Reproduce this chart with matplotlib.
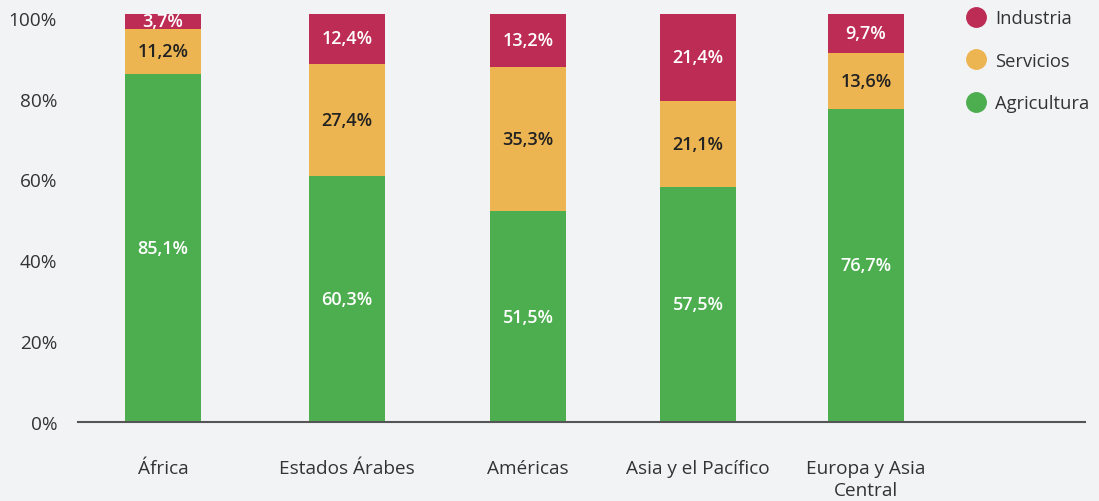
import matplotlib
matplotlib.use("Agg")
import matplotlib.pyplot as plt
from matplotlib.lines import Line2D
from matplotlib.transforms import ScaledTranslation

# Data
categories = ["África", "Estados Árabes", "Américas", "Asia y el Pacífico", "Europa y Asia\nCentral"]
agricultura = [85.1, 60.3, 51.5, 57.5, 76.7]
servicios = [11.2, 27.4, 35.3, 21.1, 13.6]
industria = [3.7, 12.4, 13.2, 21.4, 9.7]
series_names = ["Industria", "Servicios", "Agricultura"]
ytick_vals = [0, 20, 40, 60, 80, 100]

# Layout (pixel-like units along the axis)
x_pos = [85, 269, 450, 620, 788]
bar_w = 76

BG = "#F2F3F5"
C_IND = "#BC2C55"
C_SER = "#ECB551"
C_AGR = "#4DAE50"
TXT = "#333333"
FONT = ["Open Sans", "DejaVu Sans"]
plt.rcParams["font.family"] = FONT

W, H = 1099, 502
fig = plt.figure(figsize=(W / 100, H / 100), dpi=100, facecolor=BG)
ax = fig.add_axes([78 / W, (H - 422.7) / H, (1085 - 78) / W, (422.7 - 14.5) / H])
ax.set_facecolor(BG)
ax.set_xlim(0, 1007)
ax.set_ylim(0, 100)

def fmt(v):
    return f"{v:.1f}%".replace(".", ",")

bottoms = [0] * len(categories)
for vals, col, tcol in [(agricultura, C_AGR, "white"), (servicios, C_SER, "#222222"), (industria, C_IND, "white")]:
    ax.bar(x_pos, vals, width=bar_w, bottom=bottoms, color=col, linewidth=0)
    for x, b, v in zip(x_pos, bottoms, vals):
        ax.text(x, b + v / 2, fmt(v), ha="center", va="center", color=tcol,
                fontsize=13, fontweight="semibold")
    bottoms = [b + v for b, v in zip(bottoms, vals)]

for s in ["top", "right", "left"]:
    ax.spines[s].set_visible(False)
ax.spines["bottom"].set_color("#555555")
ax.spines["bottom"].set_linewidth(1.5)

ax.set_xticks(x_pos)
ax.set_xticklabels(categories, fontsize=13.7, color=TXT, linespacing=1.3, va="top")
ax.tick_params(axis="x", length=0, pad=27)
ax.set_yticks(ytick_vals)
ax.set_yticklabels([f"{v}%" for v in ytick_vals], fontsize=13.7, color=TXT)
ax.tick_params(axis="y", length=0, pad=15)
for i, lbl in enumerate(ax.get_yticklabels()):
    lbl.set_transform(lbl.get_transform() + ScaledTranslation(0, -0.045 * i / 5, fig.dpi_scale_trans))

# Legend
handles = [Line2D([0], [0], marker="o", linestyle="none", markersize=14,
                  markerfacecolor=c, markeredgecolor=c) for c in [C_IND, C_SER, C_AGR]]
leg = fig.legend(handles, series_names, loc="upper left", bbox_to_anchor=(955 / W, 1 - 3 / H),
                 frameon=False, fontsize=13.2, labelcolor=TXT, handletextpad=0.3,
                 labelspacing=1.33, handlelength=1.5, borderaxespad=0)

fig.savefig("out.png", dpi=100, facecolor=BG)
